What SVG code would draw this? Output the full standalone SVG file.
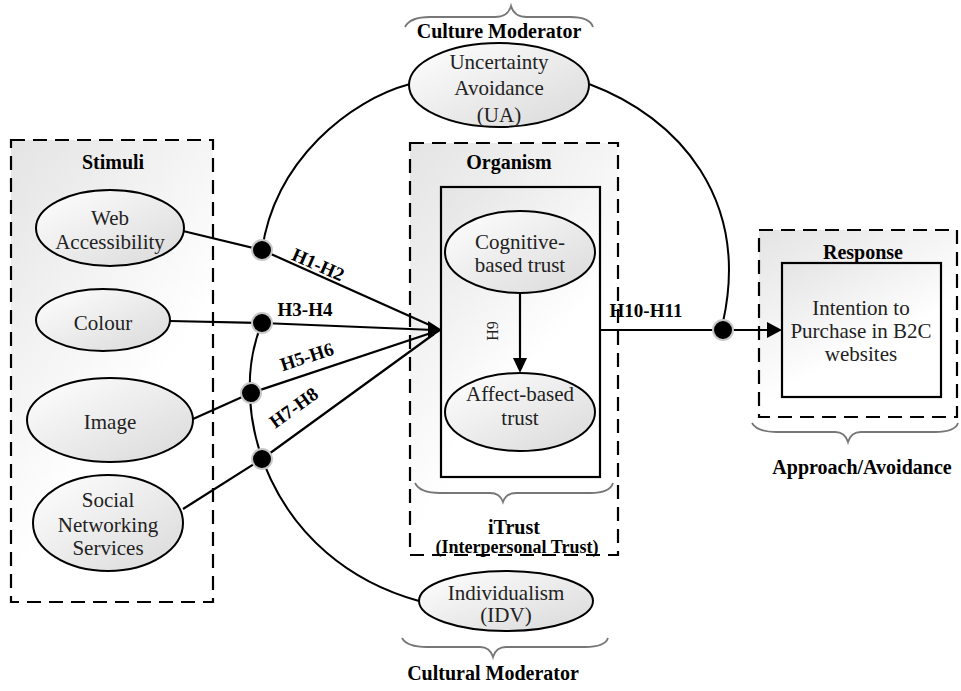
<svg xmlns="http://www.w3.org/2000/svg" width="961" height="691" viewBox="0 0 961 691">
<defs>
<linearGradient id="boxg" x1="0" y1="0" x2="0.6" y2="1">
<stop offset="0" stop-color="#e4e4e4"/>
<stop offset="0.7" stop-color="#ffffff"/>
</linearGradient>
<linearGradient id="ellg" x1="0" y1="0" x2="1" y2="1">
<stop offset="0" stop-color="#ffffff"/>
<stop offset="1" stop-color="#d9d9d9"/>
</linearGradient>
<style>
.dash{fill:url(#boxg);stroke:#000;stroke-width:2.2;stroke-dasharray:14,8}
.solid{fill:url(#boxg);stroke:#000;stroke-width:2.2}
.ell{fill:url(#ellg);stroke:#000;stroke-width:2}
text{font-family:'Liberation Serif','Times New Roman',serif}
.t{font-size:21px;fill:#222;text-anchor:middle}
.b{font-size:20px;font-weight:bold;fill:#000;text-anchor:middle}
.h{font-size:19px;font-weight:bold;fill:#000;text-anchor:middle}
.ln{fill:none;stroke:#000;stroke-width:2.2}
.arc{fill:none;stroke:#000;stroke-width:2}
.brace{fill:none;stroke:#777;stroke-width:1.8}
.dot{fill:#000;stroke:#c8c8c8;stroke-width:2}
.ah{fill:#000}
</style>
</defs>
<rect width="961" height="691" fill="#fff"/>

<g id="stimuli">
<rect class="dash" x="11" y="140" width="202" height="462"/>
<text class="b" x="113" y="169">Stimuli</text>
</g>
<g id="organism">
<rect class="dash" x="410" y="143" width="208" height="412"/>
<text class="b" x="509" y="169">Organism</text>
<rect class="solid" x="441" y="187" width="159" height="290"/>
</g>
<g id="response">
<rect class="dash" x="759" y="230" width="198" height="187"/>
<text class="b" x="863" y="259">Response</text>
</g>

<g id="connectors">
<path class="arc" d="M410,84 C350,100 275,160 262,250"/>
<path class="arc" d="M589,84 C680,118 750,200 723,322"/>
<path class="arc" d="M262,323 C225,410 270,560 419,601"/>
<polyline class="ln" points="183,231 262,250 434,327"/>
<polyline class="ln" points="170,321 262,323 434,330"/>
<polyline class="ln" points="193,419 251,393 434,332"/>
<polyline class="ln" points="183,509 262,459 434,334"/>
<polygon class="ah" points="442,330 428,321 428,339"/>
<line class="ln" x1="520" y1="293" x2="520" y2="360"/>
<polygon class="ah" points="520,373 513,358 527,358"/>
<line class="ln" x1="600" y1="330" x2="768" y2="330"/>
<polygon class="ah" points="782,330 767,322 767,338"/>
<circle class="dot" cx="262" cy="250" r="10"/>
<circle class="dot" cx="262" cy="323" r="10"/>
<circle class="dot" cx="251" cy="393" r="10"/>
<circle class="dot" cx="262" cy="459" r="10"/>
<circle class="dot" cx="723" cy="330" r="10"/>
<text class="h" transform="translate(318,265) rotate(24)" y="6">H1-H2</text>
<text class="h" x="305" y="316">H3-H4</text>
<text class="h" transform="translate(307,357) rotate(-18)" y="6">H5-H6</text>
<text class="h" transform="translate(294,408) rotate(-36)" y="6">H7-H8</text>
<text class="t" style="font-size:16px" transform="translate(492,331) rotate(-90)" y="6">H9</text>
<text class="h" x="646" y="317">H10-H11</text>
</g>

<g id="web-accessibility">
<ellipse class="ell" cx="110" cy="228" rx="74" ry="38"/>
<text class="t" x="110" y="225">Web</text>
<text class="t" x="110" y="249">Accessibility</text>
</g>
<g id="colour">
<ellipse class="ell" cx="103" cy="320" rx="67" ry="31"/>
<text class="t" x="103" y="330">Colour</text>
</g>
<g id="image">
<ellipse class="ell" cx="110" cy="420" rx="83" ry="42"/>
<text class="t" x="110" y="429">Image</text>
</g>
<g id="sns">
<ellipse class="ell" cx="108" cy="523" rx="75" ry="48"/>
<text class="t" x="108" y="507">Social</text>
<text class="t" x="108" y="532">Networking</text>
<text class="t" x="108" y="555">Services</text>
</g>
<g id="uncertainty-avoidance">
<ellipse class="ell" cx="499" cy="85" rx="90" ry="42"/>
<text class="t" x="499" y="69">Uncertainty</text>
<text class="t" x="499" y="95">Avoidance</text>
<text class="t" x="499" y="122">(UA)</text>
</g>
<g id="cognitive">
<ellipse class="ell" cx="520" cy="252" rx="75" ry="41"/>
<text class="t" x="520" y="249">Cognitive-</text>
<text class="t" x="520" y="272">based trust</text>
</g>
<g id="affect">
<ellipse class="ell" cx="520" cy="412" rx="75" ry="39"/>
<text class="t" x="520" y="401">Affect-based</text>
<text class="t" x="520" y="425">trust</text>
</g>
<g id="intention">
<rect class="solid" x="782" y="263" width="159" height="134"/>
<text class="t" x="861" y="315">Intention to</text>
<text class="t" x="861" y="338">Purchase in B2C</text>
<text class="t" x="861" y="361">websites</text>
</g>
<g id="individualism">
<ellipse class="ell" cx="506" cy="601" rx="87" ry="30"/>
<text class="t" x="506" y="600">Individualism</text>
<text class="t" x="506" y="622">(IDV)</text>
</g>

<g id="braces">
<path class="brace" d="M405,27 Q410,17 430,17 L495,17 Q508,17 511,6 Q514,17 527,17 L570,17 Q590,17 593,27"/>
<text class="b" x="499" y="38">Culture Moderator</text>
<path class="brace" d="M415,483 Q420,493 440,493 L490,493 Q500,493 503,502 Q506,493 516,493 L590,493 Q610,493 613,483"/>
<text class="b" x="514" y="534">iTrust</text>
<text class="b" style="font-size:18px" x="517" y="553">(Interpersonal Trust)</text>
<path class="brace" d="M752,423 Q757,432 777,432 L835,432 Q845,432 848,442 Q851,432 861,432 L935,432 Q955,432 958,423"/>
<text class="b" x="862" y="474">Approach/Avoidance</text>
<path class="brace" d="M402,638 Q407,647 427,647 L480,647 Q490,647 493,657 Q496,647 506,647 L585,647 Q605,647 608,638"/>
<text class="b" x="493" y="680">Cultural Moderator</text>
</g>
</svg>
